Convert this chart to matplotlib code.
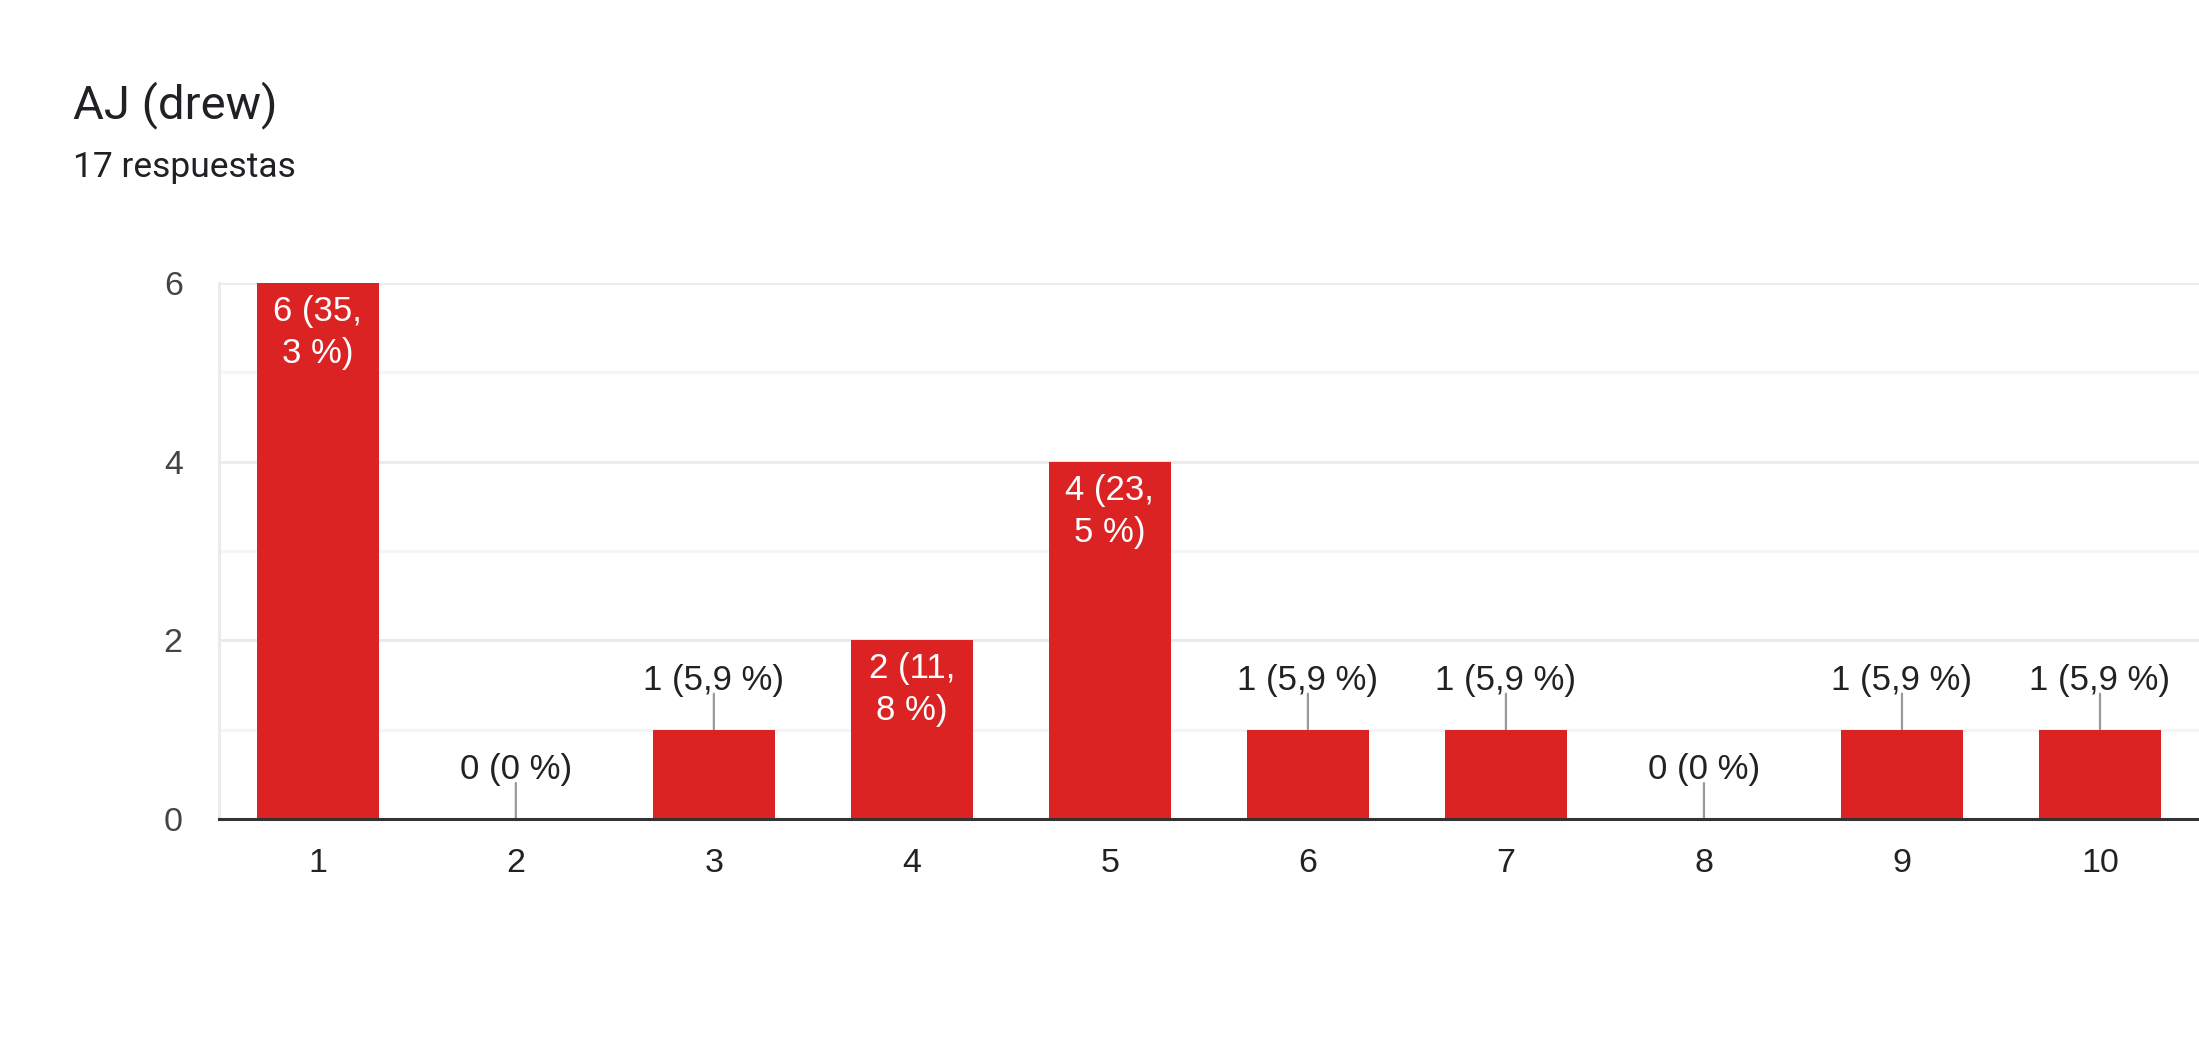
import numpy as np
import matplotlib.pyplot as plt

plt.rcParams['font.family'] = ['Roboto', 'DejaVu Sans']
fuente_graf = ['Liberation Sans', 'DejaVu Sans']

# datos
categorias = ['1', '2', '3', '4', '5', '6', '7', '8', '9', '10']
respuestas = [6, 0, 1, 2, 4, 1, 1, 0, 1, 1]
etiquetas = ['6 (35,\n3 %)', '0 (0 %)', '1 (5,9 %)', '2 (11,\n8 %)', '4 (23,\n5 %)',
             '1 (5,9 %)', '1 (5,9 %)', '0 (0 %)', '1 (5,9 %)', '1 (5,9 %)']
titulo = 'AJ (drew)'
subtitulo = '17 respuestas'

rojo = '#db2323'

fig = plt.figure(figsize=(21.99, 10.44), dpi=100)
ax = fig.add_axes([0.0995, 0.2155, 0.9005, 0.5135])

x = np.arange(1, len(categorias) + 1)
ax.bar(x, respuestas, width=0.617, color=rojo, zorder=3)

ax.set_xlim(0.5, len(categorias) + 0.5)
ax.set_ylim(0, 6)
ax.set_yticks([0, 2, 4, 6])
ax.set_yticks([1, 3, 5], minor=True)
ax.set_xticks(x)
ax.set_xticklabels(categorias)

# rejilla
ax.grid(which='major', axis='y', color='#ebebeb', lw=2.2, zorder=0)
ax.grid(which='minor', axis='y', color='#f5f5f5', lw=2.2, zorder=0)
ax.tick_params(which='both', length=0)
ax.tick_params(axis='y', labelsize=24.5, labelcolor='#444444', pad=26)
ax.tick_params(axis='x', labelsize=24.5, labelcolor='#222222', pad=21)
for lbl in ax.get_xticklabels() + ax.get_yticklabels():
    lbl.set_family(fuente_graf)

for s in ['top', 'right']:
    ax.spines[s].set_visible(False)
ax.spines['left'].set_color('#ebebeb')
ax.spines['left'].set_linewidth(2.2)
ax.spines['bottom'].set_color('#333333')
ax.spines['bottom'].set_linewidth(2.2)
ax.spines['bottom'].set_zorder(4)

# etiquetas de valores
for xi, v, et in zip(x, respuestas, etiquetas):
    if v >= 2:
        lineas = et.split('\n')
        for i, ln in enumerate(lineas):
            ax.annotate(ln, (xi, v), xytext=(0, -38 - 42 * i), textcoords='offset pixels',
                        ha='center', va='baseline', fontsize=25, color='white',
                        family=fuente_graf, zorder=5)
    else:
        ax.annotate('', (xi, v), xytext=(0, 36), textcoords='offset pixels',
                    arrowprops=dict(arrowstyle='-', color='#999999', lw=1.6,
                                    shrinkA=0, shrinkB=0), zorder=2)
        ax.annotate(et, (xi, v), xytext=(0, 40), textcoords='offset pixels',
                    ha='center', va='baseline', fontsize=25, color='#222222',
                    family=fuente_graf, zorder=5)

fig.text(0.033, 0.8995, titulo, fontsize=34, color='#202124', va='center', ha='left')
fig.text(0.033, 0.84, subtitulo, fontsize=25.5, color='#202124', va='center', ha='left')

fig.savefig('out.png', dpi=100, facecolor='white')
